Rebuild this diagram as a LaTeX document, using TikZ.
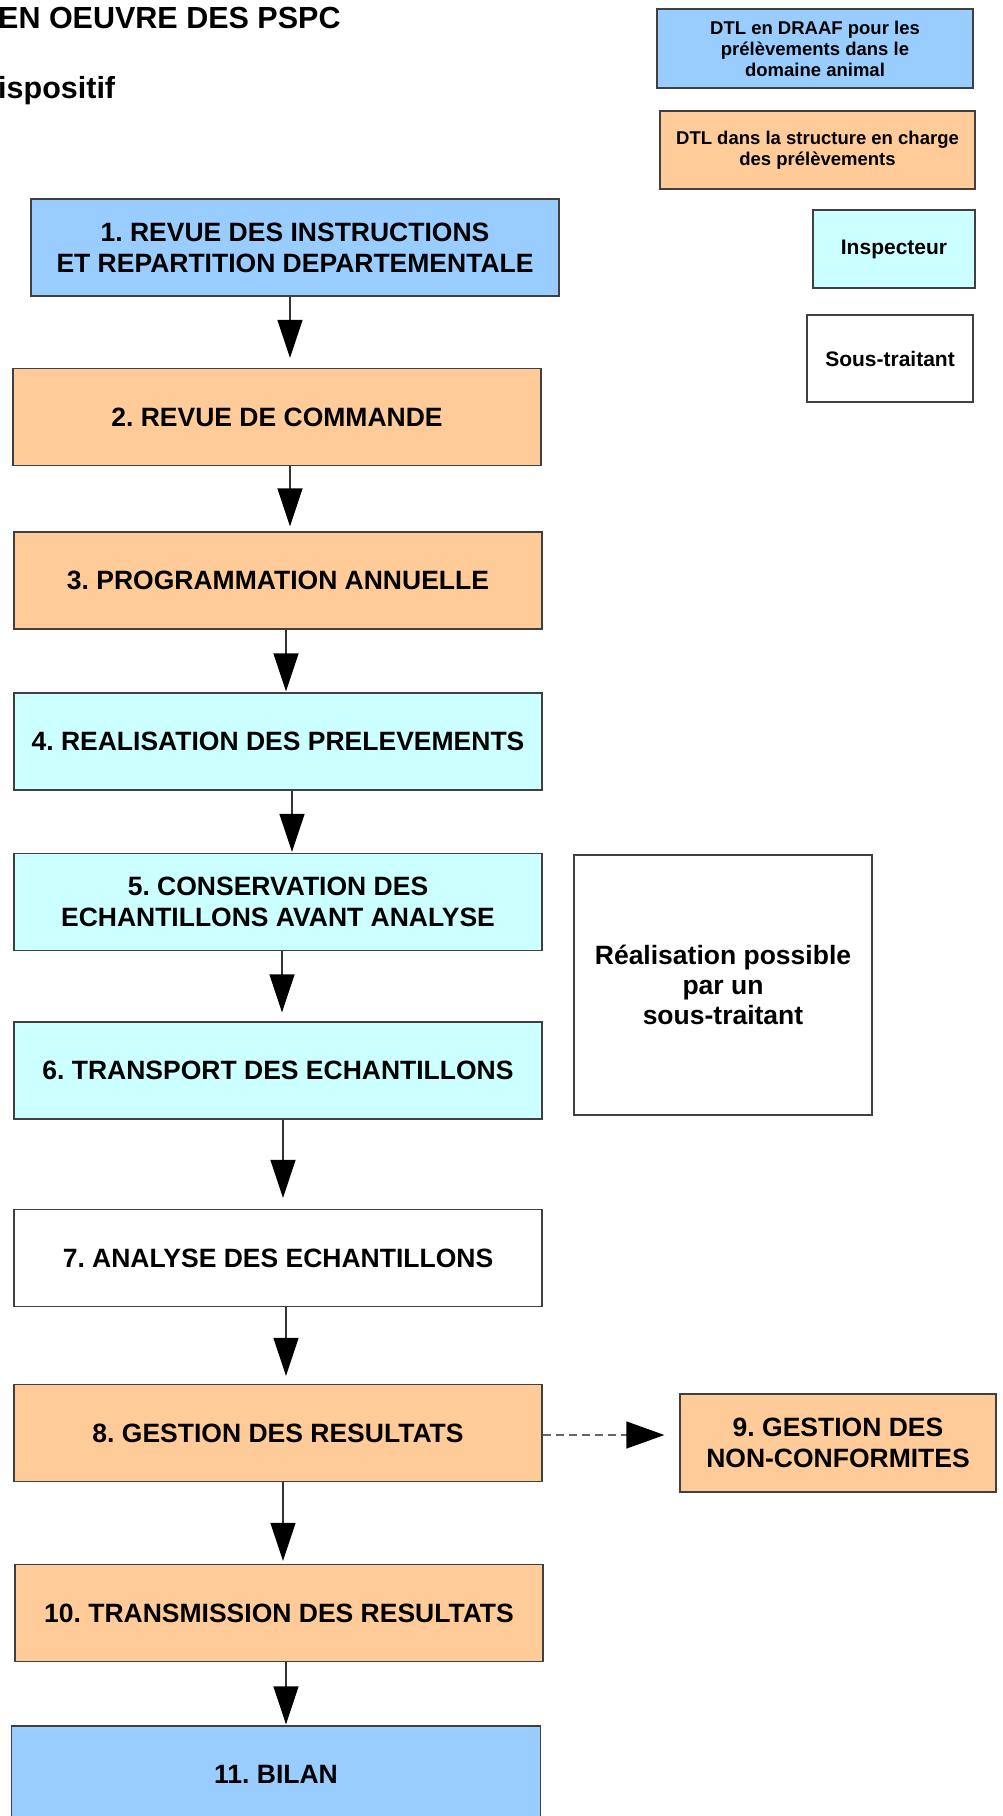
\documentclass[tikz,border=0pt]{standalone}
\usepackage{fontspec}
\setmainfont{Liberation Sans}
\usepackage{tikz}
\usetikzlibrary{shapes,arrows.meta}
\usepackage{xcolor}
\definecolor{draafBlue}{HTML}{99CCFF}
\definecolor{structOrange}{HTML}{FFCC99}
\definecolor{inspCyan}{HTML}{CCFFFF}
\frenchspacing

\begin{document}
\begin{tikzpicture}[
  x=1pt,y=-1pt,
  every node/.style={align=center},
  stepBox/.style={draw=black!75,line width=1.3pt,rectangle,inner sep=0pt,minimum width=528pt,minimum height=97pt,font=\bfseries\fontsize{26.5}{31}\selectfont},
  draafStep/.style={stepBox,fill=draafBlue},
  structStep/.style={stepBox,fill=structOrange},
  inspStep/.style={stepBox,fill=inspCyan},
  subStep/.style={stepBox,fill=white},
  legendBox/.style={draw=black!75,line width=1.3pt,rectangle,inner sep=0pt,font=\bfseries\fontsize{18.5}{21}\selectfont},
  titleText/.style={anchor=base west,inner sep=0pt,font=\bfseries\fontsize{30.5}{36}\selectfont},
  stepToStep/.style={-{Triangle[length=38pt,width=25pt,color=black]},line width=1.3pt,black!80},
  stepToNc/.style={-{Triangle[length=38pt,width=27pt,color=black]},line width=1.3pt,black!60,dash pattern=on 8pt off 5pt}]

  \useasboundingbox (0,0) rectangle (1003,1816);

  % titles (cut at the left border)
  \node[titleText] (title) at (-2,28) {EN OEUVRE DES PSPC};
  \node[titleText] (subtitle) at (-2,98) {ispositif};

  % legend
  \node[legendBox,fill=draafBlue,minimum width=316pt,minimum height=79pt] (lgDraaf) at (815,48.5) {DTL en DRAAF pour les\\prélèvements dans le\\domaine animal};
  \node[legendBox,fill=structOrange,minimum width=315pt,minimum height=78pt] (lgStruct) at (817.5,150) {DTL dans la structure en charge\\des prélèvements};
  \node[legendBox,fill=inspCyan,minimum width=162pt,minimum height=78pt,font=\bfseries\fontsize{21}{24}\selectfont] (lgInsp) at (894,249) {Inspecteur};
  \node[legendBox,fill=white,minimum width=166pt,minimum height=87pt,font=\bfseries\fontsize{21}{24}\selectfont] (lgSub) at (890,358.5) {Sous-traitant};

  % steps
  \node[draafStep] (b1) at (295,247.5) {1. REVUE DES INSTRUCTIONS\\ET REPARTITION DEPARTEMENTALE};
  \node[structStep] (b2) at (277,417) {2. REVUE DE COMMANDE};
  \node[structStep] (b3) at (278,580.5) {3. PROGRAMMATION ANNUELLE};
  \node[inspStep] (b4) at (278,741.5) {4. REALISATION DES PRELEVEMENTS};
  \node[inspStep] (b5) at (278,902) {5. CONSERVATION DES\\ECHANTILLONS AVANT ANALYSE};
  \node[inspStep] (b6) at (278,1070.5) {6. TRANSPORT DES ECHANTILLONS};
  \node[subStep] (b7) at (278,1258) {7. ANALYSE DES ECHANTILLONS};
  \node[structStep] (b8) at (278,1433) {8. GESTION DES RESULTATS};
  \node[structStep,minimum width=316pt,minimum height=98pt] (b9) at (838,1443) {9. GESTION DES\\NON-CONFORMITES};
  \node[structStep] (b10) at (279,1613) {10. TRANSMISSION DES RESULTATS};
  \node[draafStep,minimum width=529pt] (b11) at (276,1774.5) {11. BILAN};

  \node[subStep,minimum width=298pt,minimum height=260pt,font=\bfseries\fontsize{26.5}{30}\selectfont] (sub) at (723,985) {Réalisation possible\\par un\\sous-traitant};

  % step to step
  \draw [stepToStep,shorten >=10pt] ([xshift=-5pt]b1.south) -- ([xshift=-5pt]b1.south |- b2.north);
  \draw [stepToStep,shorten >=5pt] ([xshift=13pt]b2.south) -- ([xshift=13pt]b2.south |- b3.north);
  \draw [stepToStep,shorten >=1pt] ([xshift=8pt]b3.south) -- ([xshift=8pt]b3.south |- b4.north);
  \draw [stepToStep,shorten >=1pt] ([xshift=14pt]b4.south) -- ([xshift=14pt]b4.south |- b5.north);
  \draw [stepToStep,shorten >=9pt] ([xshift=4pt]b5.south) -- ([xshift=4pt]b5.south |- b6.north);
  \draw [stepToStep,shorten >=11pt] ([xshift=5pt]b6.south) -- ([xshift=5pt]b6.south |- b7.north);
  \draw [stepToStep,shorten >=8pt] ([xshift=8pt]b7.south) -- ([xshift=8pt]b7.south |- b8.north);
  \draw [stepToStep,shorten >=3pt] ([xshift=5pt]b8.south) -- ([xshift=5pt]b8.south |- b10.north);
  \draw [stepToStep,shorten >=1pt] ([xshift=7pt]b10.south) -- ([xshift=7pt]b10.south |- b11.north);

  % results to non-conformities
  \draw [stepToNc,shorten >=15pt] ([yshift=-2pt]b8.east) -- ([yshift=-2pt]b8.east -| b9.west);
\end{tikzpicture}
\end{document}
